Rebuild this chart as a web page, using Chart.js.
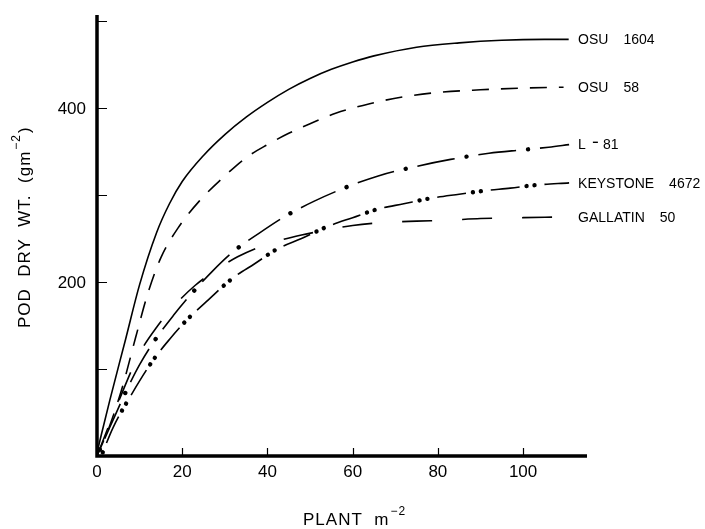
<!DOCTYPE html>
<html>
<head>
<meta charset="utf-8">
<title>Pod dry weight vs plant density</title>
<script src="https://cdn.jsdelivr.net/npm/chart.js@4.4.1/dist/chart.umd.min.js"></script>
<style>
  body { margin: 0; background: #fff; }
  canvas { display: block; }
</style>
</head>
<body>
<canvas id="podChart" width="705" height="529"></canvas>
<script>
// plants per m2 (x) and pod dry weight in g/m2 (y)

const osu1604X = [0, 3, 6.7, 10, 14, 17, 20, 25, 30, 35, 40, 45, 50, 55, 60, 65, 75, 85, 95, 105, 110.7];
const osu1604Y = [4, 64, 134, 197, 257, 290, 315.5, 345.5, 369.5, 389.5, 406.5, 421.5, 434, 444.5, 453, 460, 470, 475, 478, 479, 479];

const osu58X = [0, 3, 6, 9, 12, 15, 19, 24, 30, 35, 40, 45, 50, 56, 64, 72, 80, 90, 100, 109.5];
const osu58Y = [0, 35, 80, 135, 188, 228, 262, 293, 322, 343, 358, 371, 382, 394, 405, 413, 418, 421, 423, 424];

const l81X = [0, 3, 6.6, 10, 13.7, 18, 21.9, 27, 32, 38, 44.3, 51, 58, 66, 75, 83, 92, 100, 106, 110.8];
const l81Y = [0, 33, 72, 105, 134, 162, 185, 212, 235, 256, 276, 293, 308, 322, 333, 341, 348, 352, 355, 358];

const keystoneX = [1, 3.8, 8, 13, 17, 21, 26, 32, 37, 42.3, 48, 54.2, 60, 66, 72, 78, 85, 91, 97, 103, 110.8];
const keystoneY = [0, 33, 70, 109, 134, 156, 179, 205, 221, 238, 250, 264, 274, 284, 290, 296, 301, 305, 308, 311.5, 314];

const gallatinX = [0, 5, 10, 14, 18, 23, 28, 33, 38, 43, 48, 53, 60, 66, 75, 82, 90, 100, 110.7];
const gallatinY = [0, 62, 118, 148, 172, 196, 214, 229, 240, 248, 254, 259, 265, 268, 270, 271, 273, 274, 275];

const cultivarNames = ['OSU', 'OSU', 'L', 'KEYSTONE', 'GALLATIN'];
const cultivarNumbers = ['1604', '58', '81', '4672', '50'];

const xTicks = [0, 20, 40, 60, 80, 100];
const yTicks = [100, 200, 300, 400, 500];
const yTickLabels = [200, 400];

function pts(xs, ys) {
  return xs.map(function (x, i) { return { x: x, y: ys[i] }; });
}

function curve(xs, ys, dash, offset, label) {
  return {
    data: pts(xs, ys),
    borderColor: '#000',
    borderWidth: 1.6,
    borderDash: dash,
    borderDashOffset: offset,
    borderCapStyle: 'butt',
    pointRadius: 0,
    fill: false,
    cubicInterpolationMode: 'monotone',
    endLabel: label
  };
}

// the dots of the dash-dot lines, drawn as a thick dotted copy of the same curve
function dots(xs, ys, dash, offset) {
  return {
    data: pts(xs, ys),
    borderColor: '#000',
    borderWidth: 4.4,
    borderDash: dash,
    borderDashOffset: offset,
    borderCapStyle: 'round',
    pointRadius: 0,
    fill: false,
    cubicInterpolationMode: 'monotone'
  };
}

const FONT = '"Liberation Sans", Arial, Helvetica, sans-serif';

const drawExtras = {
  id: 'drawExtras',
  afterDraw(chart) {
    const ctx = chart.ctx;
    const area = chart.chartArea;
    const xs = chart.scales.x;
    const ys = chart.scales.y;
    ctx.save();
    ctx.strokeStyle = '#000';
    ctx.fillStyle = '#000';

    // axes
    ctx.lineWidth = 3.5;
    ctx.beginPath();
    ctx.moveTo(area.left, area.top);
    ctx.lineTo(area.left, area.bottom);
    ctx.moveTo(area.left - 1.75, area.bottom);
    ctx.lineTo(area.right, area.bottom);
    ctx.stroke();

    // inside ticks
    ctx.lineWidth = 1.2;
    ctx.beginPath();
    yTicks.forEach(function (v) {
      const py = Math.round(ys.getPixelForValue(v)) + 0.5;
      ctx.moveTo(area.left, py);
      ctx.lineTo(area.left + 10, py);
    });
    xTicks.forEach(function (v) {
      if (v === 0) return;
      const px = Math.round(xs.getPixelForValue(v)) + 0.5;
      ctx.moveTo(px, area.bottom);
      ctx.lineTo(px, area.bottom - 8);
    });
    ctx.stroke();

    // y tick labels (only 200 and 400 are numbered)
    ctx.font = '17px ' + FONT;
    ctx.textAlign = 'right';
    ctx.textBaseline = 'middle';
    yTickLabels.forEach(function (v) {
      ctx.fillText(String(v), area.left - 11, ys.getPixelForValue(v) + 1);
    });

    // axis titles with superscript
    ctx.letterSpacing = '1px';
    ctx.textAlign = 'left';
    ctx.textBaseline = 'alphabetic';

    ctx.font = '17px ' + FONT;
    let tx = 303;
    ctx.fillText('PLANT  m', tx, 525);
    tx += ctx.measureText('PLANT  m').width + 1;
    ctx.font = '12px ' + FONT;
    ctx.fillText('\u22122', tx, 515);

    ctx.save();
    ctx.translate(29.5, 328);
    ctx.rotate(-Math.PI / 2);
    ctx.font = '17px ' + FONT;
    let ty = 0;
    ctx.fillText('POD  DRY  WT.  (gm', ty, 0);
    ty += ctx.measureText('POD  DRY  WT.  (gm').width + 1;
    ctx.font = '12px ' + FONT;
    ctx.fillText('\u22122', ty, -10);
    ty += ctx.measureText('\u22122').width + 1;
    ctx.font = '17px ' + FONT;
    ctx.fillText(')', ty, 0);
    ctx.restore();

    // curve names at line ends, all starting in one column
    ctx.letterSpacing = '0px';
    ctx.font = '14px ' + FONT;
    ctx.textBaseline = 'middle';
    const lx = xs.getPixelForValue(110.8) + 9;
    chart.data.datasets.forEach(function (ds, i) {
      if (ds.endLabel === undefined) return;
      const meta = chart.getDatasetMeta(i);
      const last = meta.data[meta.data.length - 1];
      const ly = last.y + 1;
      const name = cultivarNames[ds.endLabel];
      const num = cultivarNumbers[ds.endLabel];
      ctx.fillText(name, lx, ly);
      const w = ctx.measureText(name).width;
      if (name === 'L') {
        ctx.fillRect(lx + w + 7, ly - 4, 5, 1.4);
        ctx.fillText(num, lx + w + 17, ly);
      } else {
        ctx.fillText(num, lx + w + 15, ly);
      }
    });
    ctx.restore();
  }
};

const ctx = document.getElementById('podChart').getContext('2d');

const podChart = new Chart(ctx, {
  type: 'line',
  data: {
    datasets: [
      curve(osu1604X, osu1604Y, [], 0, 0),
      curve(osu58X, osu58Y, [17, 12], 0, 1),
      curve(l81X, l81Y, [38, 24], 43, 2),
      dots(l81X, l81Y, [0.01, 61.99], 55),
      curve(keystoneX, keystoneY, [29, 25], 40, 3),
      dots(keystoneX, keystoneY, [0.01, 8, 0.01, 45.98], 4),
      curve(gallatinX, gallatinY, [30, 30], 0, 4)
    ]
  },
  options: {
    responsive: false,
    animation: false,
    layout: { padding: { top: 15, right: 118, left: 0, bottom: 0 } },
    plugins: {
      legend: { display: false },
      tooltip: { enabled: false }
    },
    scales: {
      x: {
        type: 'linear',
        min: 0,
        max: 115,
        afterFit: function (scale) { scale.height = 73; },
        grid: { display: false, drawTicks: false },
        border: { display: false },
        ticks: {
          stepSize: 20,
          includeBounds: false,
          padding: 6,
          color: '#000',
          font: { family: FONT, size: 17 },
          maxRotation: 0,
          callback: function (v) { return xTicks.includes(v) ? String(v) : ''; }
        }
      },
      y: {
        type: 'linear',
        min: 0,
        max: 507,
        afterFit: function (scale) { scale.width = 97; },
        grid: { display: false, drawTicks: false },
        border: { display: false },
        ticks: { display: false, stepSize: 100, includeBounds: false }
      }
    }
  },
  plugins: [drawExtras]
});
</script>
</body>
</html>
